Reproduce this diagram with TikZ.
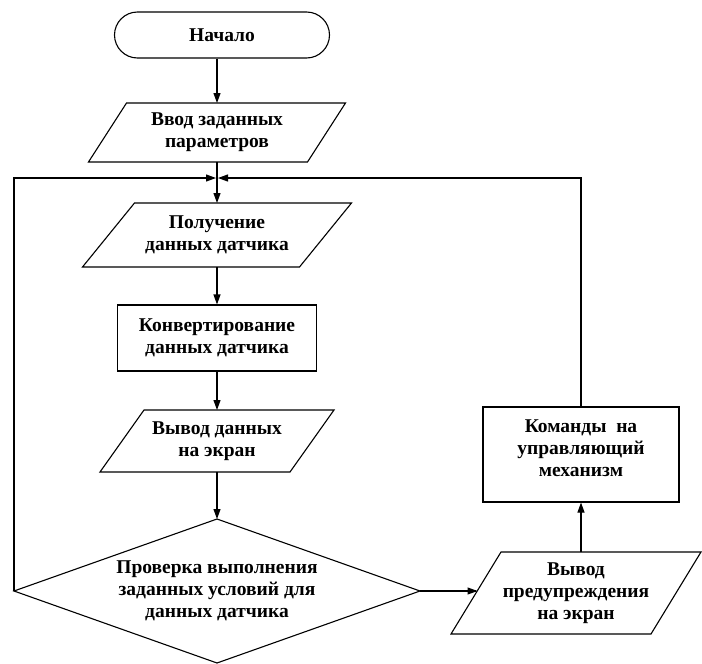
\documentclass[tikz,border=0pt]{standalone}
\usepackage{fontspec}
\setmainfont{Liberation Serif}[BoldFont={Liberation Serif Bold}]
\newfontfamily\lserif{Liberation Serif}[BoldFont={Liberation Serif Bold}]
\usetikzlibrary{arrows.meta,shapes.misc}
\begin{document}
\begin{tikzpicture}[x=1pt,y=-1pt,
  line width=1.1pt,
  txt/.style={font=\lserif\bfseries\fontsize{19.5}{22}\selectfont, align=center, inner sep=0pt},
  arr/.style={-{Triangle[length=10pt,width=7pt]}},
  term/.style={rounded rectangle, draw, minimum width=215pt, minimum height=46pt, inner sep=0pt},
  boxnode/.style={rectangle, draw, inner sep=0pt},
  area/.style={rectangle, inner sep=0pt, outer sep=0pt},
]
\useasboundingbox (0,0) rectangle (702,664);

% Start
\node[term, txt] (start) at (222,35) {Начало};

% P1
\node[area, txt, minimum width=219pt, minimum height=59pt] (p1) at (217,132.5) {Ввод заданных\\параметров};
\draw ([xshift=19pt]p1.north west) -- ([xshift=19pt]p1.north east) -- ([xshift=-19pt]p1.south east) -- ([xshift=-19pt]p1.south west) -- cycle;

% P2
\node[area, txt, minimum width=217pt, minimum height=64pt] (p2) at (217,235) {Получение\\данных датчика};
\draw ([xshift=26pt]p2.north west) -- ([xshift=26pt]p2.north east) -- ([xshift=-26pt]p2.south east) -- ([xshift=-26pt]p2.south west) -- cycle;

% Conversion
\node[boxnode, txt, minimum width=199pt, minimum height=66pt] (conv) at (217,338) {Конвертирование\\данных датчика};

% P3
\node[area, txt, minimum width=190pt, minimum height=62pt] (p3) at (217,441) {Вывод данных\\на экран};
\draw ([xshift=22pt]p3.north west) -- ([xshift=22pt]p3.north east) -- ([xshift=-22pt]p3.south east) -- ([xshift=-22pt]p3.south west) -- cycle;

% Decision
\node[txt] (chk) at (217,591) {Проверка выполнения\\заданных условий для\\данных датчика};
\coordinate (chkT) at (217,519);
\coordinate (chkB) at (217,663);
\coordinate (chkL) at (14,591);
\coordinate (chkR) at (420,591);
\draw (chkT) -- (chkR) -- (chkB) -- (chkL) -- cycle;

% P4
\node[area, txt, minimum width=200pt, minimum height=82pt] (p4) at (576,593) {Вывод\\предупреждения\\на экран};
\draw ([xshift=25pt]p4.north west) -- ([xshift=25pt]p4.north east) -- ([xshift=-25pt]p4.south east) -- ([xshift=-25pt]p4.south west) -- cycle;

% Commands box
\node[boxnode, minimum width=196pt, minimum height=95pt] (k) at (581,454.5) {};
\node[txt] (kt) at (581,448) {Команды~ на\\управляющий\\механизм};

% Junction
\coordinate (j) at (217,178);

% Connectors
\draw[arr] (start.south -| p1.north) -- (p1.north);
\draw[arr] (p1.south) -- (p2.north);
\draw[arr] (p2.south) -- (conv.north);
\draw[arr] (conv.south) -- (p3.north);
\draw[arr] (p3.south) -- (chkT);
\draw[arr] (chkL) |- ([xshift=-1pt]j);
\draw[arr] (chkR) -- (chkR -| p4.west) -- ++(1.5,0);
\draw[arr] (p4.north -| k.south) -- (k.south);
\draw[arr] (k.north) |- ([xshift=1pt]j);
\end{tikzpicture}
\end{document}
